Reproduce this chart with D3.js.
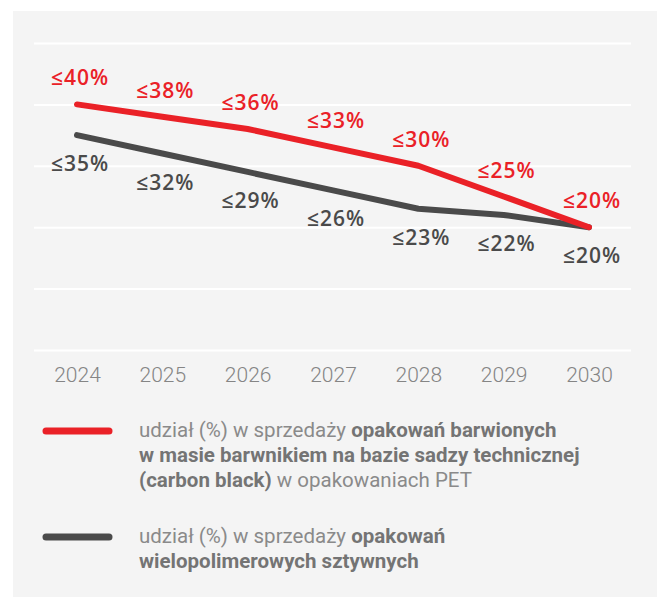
<!DOCTYPE html>
<html>
<head>
<meta charset="utf-8">
<script src="https://cdn.jsdelivr.net/npm/d3@7"></script>
<style>
    html, body { margin: 0; padding: 0; background: #ffffff; }
    svg { display: block; font-family: Roboto, "Noto Sans", sans-serif; }
</style>
</head>
<body>
<div id="chart"></div>
<script>
// ─── DATA ───
const years = [2024, 2025, 2026, 2027, 2028, 2029, 2030];
const carbonBlack = [40, 38, 36, 33, 30, 25, 20];
const multiPolymer = [35, 32, 29, 26, 23, 22, 20];
const gridTicks = [0, 10, 20, 30, 40, 50];

const legendRed = [
    [["udział (%) w sprzedaży ", false], ["opakowań barwionych", true]],
    [["w masie barwnikiem na bazie sadzy technicznej", true]],
    [["(carbon black)", true], [" w opakowaniach PET", false]]
];
const legendGray = [
    [["udział (%) w sprzedaży ", false], ["opakowań", true]],
    [["wielopolimerowych sztywnych", true]]
];

const RED = "#ea2127";
const GRAY = "#4a4a4a";

// ─── CHART ───
const width = 657, height = 597;
const margin = { top: 43, right: 26, bottom: 247, left: 34 };

const svg = d3.select("#chart").append("svg")
    .attr("width", width)
    .attr("height", height);

// panel background
svg.append("rect")
    .attr("x", 13).attr("y", 11)
    .attr("width", width - 13).attr("height", height - 11)
    .attr("fill", "#f4f4f4");

const x = d3.scalePoint()
    .domain(years)
    .range([77, 589]);

const y = d3.scaleLinear()
    .domain([0, 50])
    .range([height - margin.bottom, margin.top]);

// grid lines
svg.append("g")
    .attr("transform", `translate(${margin.left},0)`)
    .call(d3.axisLeft(y).tickValues(gridTicks).tickSize(-(width - margin.left - margin.right)).tickFormat(""))
    .call(g => g.select(".domain").remove())
    .call(g => g.selectAll(".tick line").attr("stroke", "#ffffff").attr("stroke-width", 2));

// year axis
svg.append("g")
    .attr("transform", `translate(0,${height - margin.bottom})`)
    .call(d3.axisBottom(x).tickSize(0).tickPadding(0))
    .call(g => g.select(".domain").remove())
    .call(g => g.selectAll("text")
        .attr("dy", null)
        .attr("y", 32)
        .attr("font-family", "Roboto, sans-serif")
        .attr("font-size", "21px")
        .attr("font-weight", 300)
        .attr("fill", "#858585"));

const line = d3.line()
    .x((d, i) => x(years[i]))
    .y(d => y(d));

svg.append("path")
    .datum(multiPolymer)
    .attr("d", line)
    .attr("fill", "none")
    .attr("stroke", GRAY)
    .attr("stroke-width", 6)
    .attr("stroke-linecap", "round")
    .attr("stroke-linejoin", "round");

svg.append("path")
    .datum(carbonBlack)
    .attr("d", line)
    .attr("fill", "none")
    .attr("stroke", RED)
    .attr("stroke-width", 6)
    .attr("stroke-linecap", "round")
    .attr("stroke-linejoin", "round");

// value labels
const labelStyle = sel => sel
    .attr("text-anchor", "middle")
    .attr("font-family", "'Open Sans', sans-serif")
    .attr("font-size", "21px")
    .attr("font-weight", 600)
    .attr("letter-spacing", "1px");

svg.append("g").selectAll("text")
    .data(carbonBlack)
    .join("text")
    .call(labelStyle)
    .attr("x", (d, i) => x(years[i]) + 3)
    .attr("y", d => y(d) - 19)
    .attr("fill", RED)
    .text(d => `≤${d}%`);

svg.append("g").selectAll("text")
    .data(multiPolymer)
    .join("text")
    .call(labelStyle)
    .attr("x", (d, i) => x(years[i]) + 3)
    .attr("y", d => y(d) + 36)
    .attr("fill", GRAY)
    .text(d => `≤${d}%`);

// ─── LEGEND ───
const drawLegend = (top, color, rows) => {
    const g = svg.append("g").attr("transform", `translate(0,${top})`);
    g.append("line")
        .attr("x1", 46).attr("x2", 109)
        .attr("y1", 0).attr("y2", 0)
        .attr("stroke", color)
        .attr("stroke-width", 7)
        .attr("stroke-linecap", "round");
    const text = g.append("text")
        .attr("font-size", "20.5px")
        .attr("fill", "#858585");
    rows.forEach((row, r) => {
        row.forEach((part, k) => {
            const t = text.append("tspan")
                .attr("font-weight", part[1] ? 700 : 400)
                .attr("fill", part[1] ? "#747474" : "#8a8a8a")
                .text(part[0]);
            if (k === 0) t.attr("x", 139).attr("y", 6 + r * 25);
        });
    });
};

drawLegend(431, RED, legendRed);
drawLegend(537, GRAY, legendGray);
</script>
</body>
</html>
